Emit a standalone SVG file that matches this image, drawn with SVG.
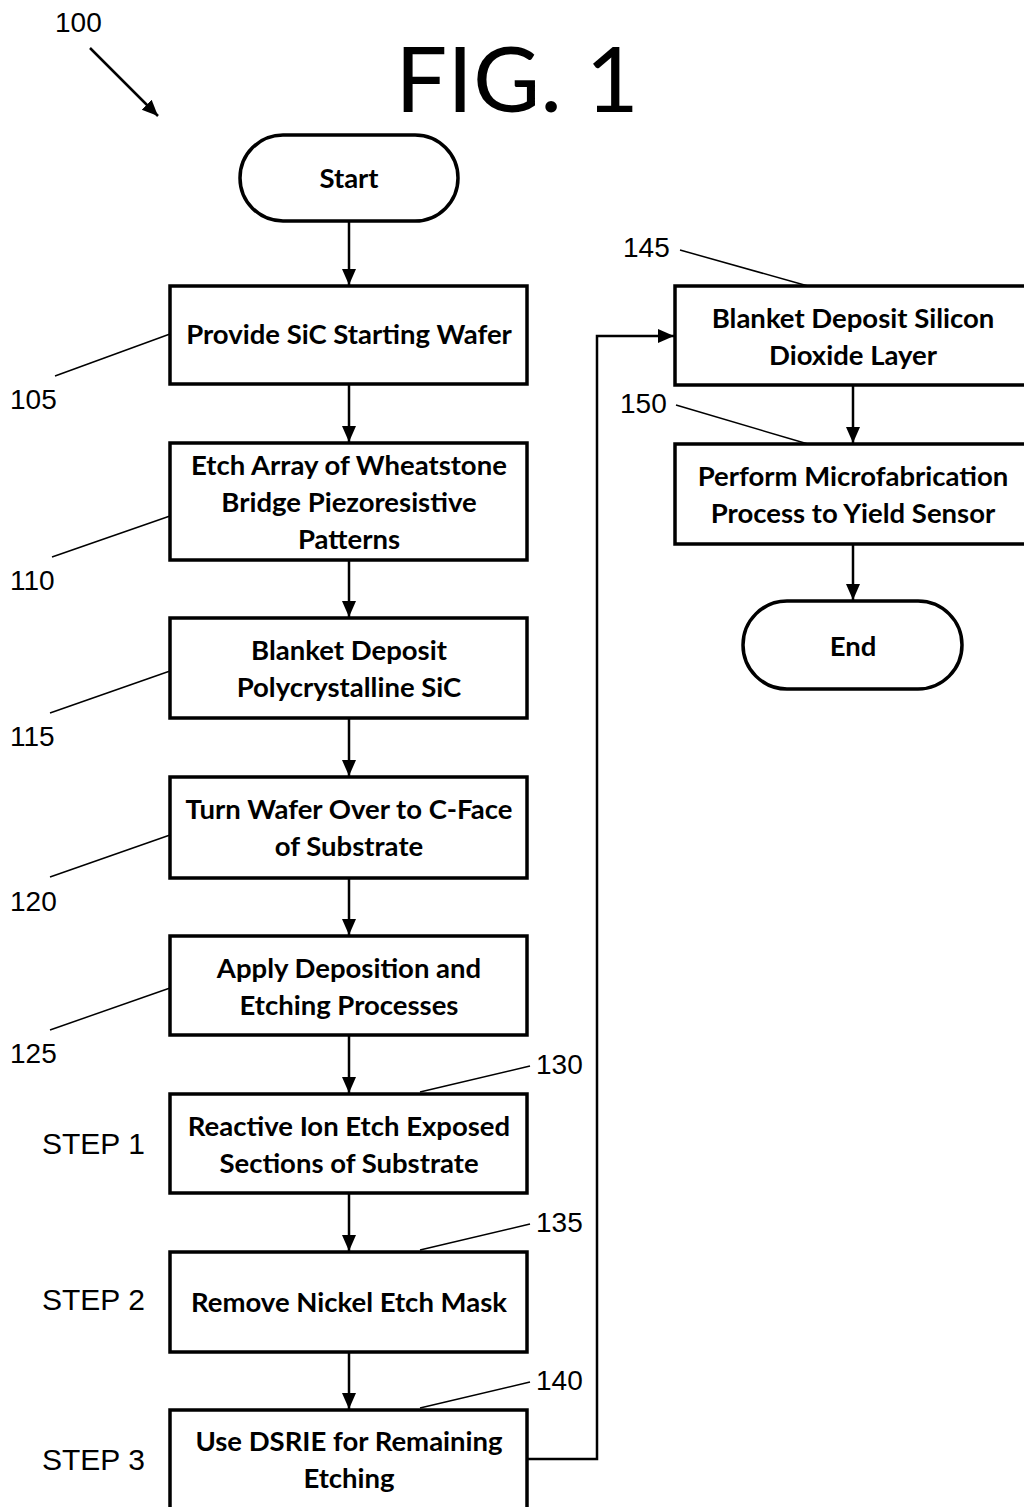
<svg xmlns="http://www.w3.org/2000/svg" width="1024" height="1507" viewBox="0 0 1024 1507">
<defs>
<marker id="ah" markerWidth="16" markerHeight="16" refX="16" refY="8" orient="auto" markerUnits="userSpaceOnUse">
<path d="M0,1 L16,8 L0,15 Z" fill="#000"/>
</marker>
<style>
.box{fill:#fff;stroke:#000;stroke-width:3.5}
.t{font-family:Lato,"Open Sans",sans-serif;font-weight:bold;font-size:27.5px;text-anchor:middle;fill:#000}
.n{font-family:"Liberation Sans",Arial,sans-serif;font-size:28px;fill:#000}
.s{font-family:"Liberation Sans",Arial,sans-serif;font-size:30px;fill:#000}
.ld{stroke:#000;stroke-width:1.5;fill:none}
.c{stroke:#000;stroke-width:2.5;fill:none;marker-end:url(#ah)}
</style>
</defs>
<rect width="1024" height="1507" fill="#fff"/>
<text x="517" y="112" font-family="Lato,'Open Sans',sans-serif" font-size="92" text-anchor="middle" fill="#000">FIG. 1</text>
<g id="ref100">
<text class="n" x="55" y="32" font-size="26">100</text>
<line x1="90" y1="48" x2="158" y2="116" stroke="#000" stroke-width="2.5" marker-end="url(#ah)"/>
</g>
<g id="start"><rect class="box" x="240" y="135" width="218" height="86" rx="43"/><text class="t" x="349" y="188">Start</text></g>
<g id="n105"><rect class="box" x="170" y="286" width="357" height="98"/><text class="t" x="349" y="344">Provide SiC Starting Wafer</text>
<line class="ld" x1="55" y1="376" x2="170" y2="334"/><text class="n" x="10" y="409">105</text></g>
<g id="n110"><rect class="box" x="170" y="443" width="357" height="117"/><text class="t" x="349" y="475">Etch Array of Wheatstone</text><text class="t" x="349" y="512">Bridge Piezoresistive</text><text class="t" x="349" y="549">Patterns</text>
<line class="ld" x1="52" y1="557" x2="170" y2="516"/><text class="n" x="10" y="590">110</text></g>
<g id="n115"><rect class="box" x="170" y="618" width="357" height="100"/><text class="t" x="349" y="660">Blanket Deposit</text><text class="t" x="349" y="697">Polycrystalline SiC</text>
<line class="ld" x1="50" y1="713" x2="170" y2="671"/><text class="n" x="10" y="746">115</text></g>
<g id="n120"><rect class="box" x="170" y="777" width="357" height="101"/><text class="t" x="349" y="819">Turn Wafer Over to C-Face</text><text class="t" x="349" y="856">of Substrate</text>
<line class="ld" x1="50" y1="877" x2="170" y2="835"/><text class="n" x="10" y="911">120</text></g>
<g id="n125"><rect class="box" x="170" y="936" width="357" height="99"/><text class="t" x="349" y="978">Apply Deposition and</text><text class="t" x="349" y="1015">Etching Processes</text>
<line class="ld" x1="50" y1="1030" x2="170" y2="988"/><text class="n" x="10" y="1063">125</text></g>
<g id="n130"><rect class="box" x="170" y="1094" width="357" height="99"/><text class="t" x="349" y="1136">Reactive Ion Etch Exposed</text><text class="t" x="349" y="1173">Sections of Substrate</text>
<line class="ld" x1="420" y1="1092" x2="530" y2="1066"/><text class="n" x="536" y="1074">130</text><text class="s" x="42" y="1154">STEP 1</text></g>
<g id="n135"><rect class="box" x="170" y="1252" width="357" height="100"/><text class="t" x="349" y="1312">Remove Nickel Etch Mask</text>
<line class="ld" x1="420" y1="1250" x2="530" y2="1224"/><text class="n" x="536" y="1232">135</text><text class="s" x="42" y="1310">STEP 2</text></g>
<g id="n140"><rect class="box" x="170" y="1410" width="357" height="105"/><text class="t" x="349" y="1451">Use DSRIE for Remaining</text><text class="t" x="349" y="1488">Etching</text>
<line class="ld" x1="420" y1="1408" x2="530" y2="1382"/><text class="n" x="536" y="1390">140</text><text class="s" x="42" y="1470">STEP 3</text></g>
<g id="n145"><rect class="box" x="675" y="286" width="360" height="99"/><text class="t" x="853" y="328">Blanket Deposit Silicon</text><text class="t" x="853" y="365">Dioxide Layer</text>
<line class="ld" x1="680" y1="250" x2="808" y2="286"/><text class="n" x="623" y="257">145</text></g>
<g id="n150"><rect class="box" x="675" y="444" width="360" height="100"/><text class="t" x="853" y="486">Perform Microfabrication</text><text class="t" x="853" y="523">Process to Yield Sensor</text>
<line class="ld" x1="676" y1="405" x2="808" y2="444"/><text class="n" x="620" y="413">150</text></g>
<g id="end"><rect class="box" x="743" y="601" width="219" height="88" rx="44"/><text class="t" x="853" y="656">End</text></g>
<g id="connectors">
<line class="c" x1="349" y1="221" x2="349" y2="285"/>
<line class="c" x1="349" y1="384" x2="349" y2="442"/>
<line class="c" x1="349" y1="560" x2="349" y2="617"/>
<line class="c" x1="349" y1="718" x2="349" y2="776"/>
<line class="c" x1="349" y1="878" x2="349" y2="935"/>
<line class="c" x1="349" y1="1035" x2="349" y2="1093"/>
<line class="c" x1="349" y1="1193" x2="349" y2="1251"/>
<line class="c" x1="349" y1="1352" x2="349" y2="1409"/>
<polyline class="c" points="527,1459 597,1459 597,336 674,336"/>
<line class="c" x1="853" y1="385" x2="853" y2="443"/>
<line class="c" x1="853" y1="544" x2="853" y2="600"/>
</g>
</svg>
